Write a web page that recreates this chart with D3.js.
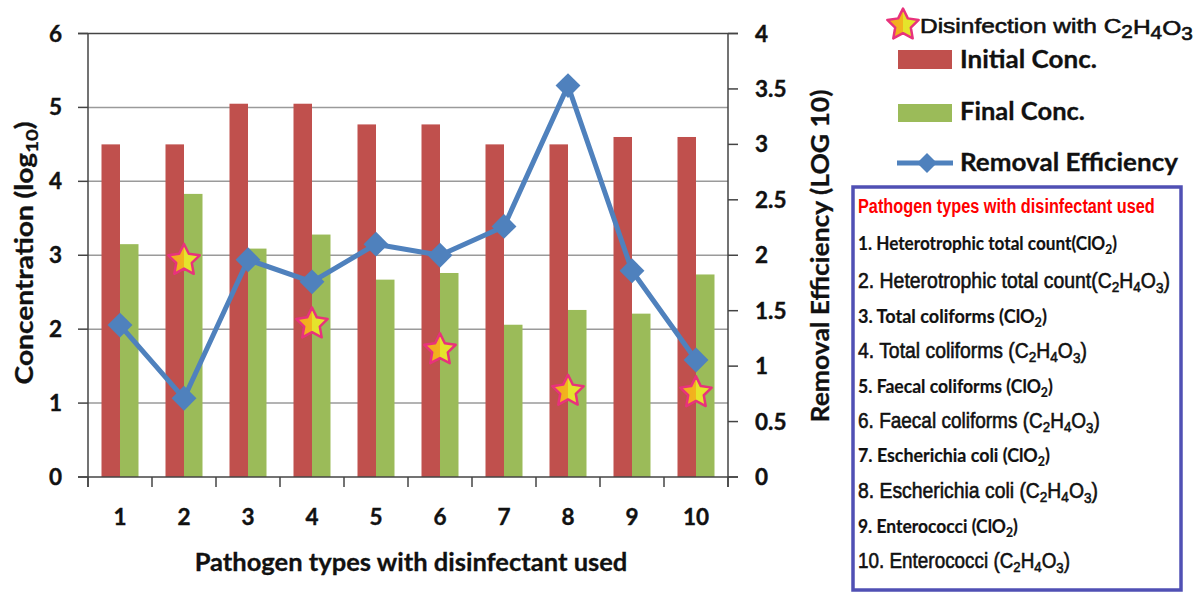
<!DOCTYPE html>
<html>
<head>
<meta charset="utf-8">
<script src="https://cdn.jsdelivr.net/npm/d3@7"></script>
<style>
  html, body { margin: 0; padding: 0; background: #fff; }
  svg { display: block; }
</style>
</head>
<body>
<svg id="chart" width="1194" height="592"></svg>
<script>
// ---- data -------------------------------------------------------------
const categories   = ['1', '2', '3', '4', '5', '6', '7', '8', '9', '10'];
const initialConc  = [4.5, 4.5, 5.05, 5.05, 4.77, 4.77, 4.5, 4.5, 4.6, 4.6];
const finalConc    = [3.15, 3.83, 3.09, 3.28, 2.67, 2.76, 2.06, 2.26, 2.21, 2.74];
const removalEff   = [1.37, 0.71, 1.96, 1.76, 2.10, 2.00, 2.26, 3.53, 1.86, 1.055];
// pathogen groups disinfected with peracetic acid (C2H4O3), marked with a star
const starCats     = ['2', '4', '6', '8', '10'];
const starConc     = [2.93, 2.07, 1.72, 1.16, 1.14];
const leftTicks    = [0, 1, 2, 3, 4, 5, 6];
const rightTicks   = [0, 0.5, 1, 1.5, 2, 2.5, 3, 3.5, 4];
const pathogenList = [
  '1. Heterotrophic total count(ClO_2)',
  '2. Heterotrophic total count(C_2H_4O_3)',
  '3.  Total coliforms (ClO_2)',
  '4. Total coliforms (C_2H_4O_3)',
  '5. Faecal coliforms (ClO_2)',
  '6. Faecal coliforms (C_2H_4O_3)',
  '7. Escherichia coli  (ClO_2)',
  '8. Escherichia coli  (C_2H_4O_3)',
  '9. Enterococci  (ClO_2)',
  '10. Enterococci (C_2H_4O_3)'
];

// ---- layout -----------------------------------------------------------
const plot = { left: 88, right: 728, top: 33.5, bottom: 477 };
const colors = { initial: '#c0504d', final: '#9bbb59', line: '#4f81bd',
                 grid: '#9a9a9a', axis: '#444', box: '#5050b4' };
const barW = 18.5;

const svg = d3.select('#chart');
const defs = svg.append('defs');
const grad = defs.append('linearGradient').attr('id', 'starFill')
  .attr('x1', '0').attr('x2', '1').attr('y1', '0').attr('y2', '0');
grad.append('stop').attr('offset', '0%').attr('stop-color', '#f2a81e');
grad.append('stop').attr('offset', '50%').attr('stop-color', '#f2b41e');
grad.append('stop').attr('offset', '50%').attr('stop-color', '#e4e42c');
grad.append('stop').attr('offset', '100%').attr('stop-color', '#e4e42c');

const x = d3.scaleBand().domain(categories).range([plot.left, plot.right]).padding(0);
const yL = d3.scaleLinear().domain([0, 6]).range([plot.bottom, plot.top]);
const yR = d3.scaleLinear().domain([0, 4]).range([plot.bottom, plot.top]);
const cx = c => x(c) + x.bandwidth() / 2;

// text with "_n" subscripts -> tspans
function richText(sel, str, subScale = 0.68) {
  const parts = str.split(/_(\d+)/);
  let shifted = false;
  parts.forEach((p, i) => {
    if (!p) return;
    const isSub = i % 2 === 1;
    const t = sel.append('tspan').text(p);
    if (isSub) {
      t.attr('font-size', (subScale * 100) + '%');
      if (!shifted) { t.attr('dy', '0.28em'); shifted = true; }
    } else if (shifted) {
      t.attr('dy', '-0.19em'); shifted = false;
    }
  });
  return sel;
}
// horizontally scale a text element so it spans the given width
function fitText(sel, tx, ty, w, rot = 0) {
  const len = sel.node().getComputedTextLength();
  const s = w / len;
  sel.attr('x', 0).attr('y', 0)
     .attr('transform', `translate(${tx},${ty}) rotate(${rot}) scale(${s},1)`);
  return sel;
}
// plump five-pointed star
function starShape(rOuter, rInner) {
  const pts = d3.range(10).map(k => [k * Math.PI / 5, k % 2 ? rInner : rOuter]);
  return d3.lineRadial().curve(d3.curveLinearClosed)(pts);
}
const starD = starShape(16.5, 8.2);

// ---- gridlines ----------------------------------------------------------
svg.append('g').selectAll('line').data(leftTicks.filter(d => d > 0 && d < 6)).join('line')
  .attr('x1', plot.left).attr('x2', plot.right)
  .attr('y1', d => yL(d)).attr('y2', d => yL(d))
  .attr('stroke', colors.grid).attr('stroke-width', 1.5);

// ---- bars ---------------------------------------------------------------
svg.append('g').selectAll('rect').data(categories).join('rect')
  .attr('x', d => cx(d) - barW).attr('width', barW)
  .attr('y', (d, i) => yL(initialConc[i]))
  .attr('height', (d, i) => yL(0) - yL(initialConc[i]))
  .attr('fill', colors.initial);
svg.append('g').selectAll('rect').data(categories).join('rect')
  .attr('x', d => cx(d)).attr('width', barW)
  .attr('y', (d, i) => yL(finalConc[i]))
  .attr('height', (d, i) => yL(0) - yL(finalConc[i]))
  .attr('fill', colors.final);

// ---- axes ---------------------------------------------------------------
const axG = svg.append('g').attr('stroke', colors.axis).attr('stroke-width', 1.5);
// frame: left, right, top, bottom
axG.append('line').attr('x1', plot.left).attr('x2', plot.left).attr('y1', plot.top).attr('y2', plot.bottom + 10);
axG.append('line').attr('x1', plot.right).attr('x2', plot.right).attr('y1', plot.top).attr('y2', plot.bottom + 10);
axG.append('line').attr('x1', plot.left - 10).attr('x2', plot.right + 10).attr('y1', plot.top).attr('y2', plot.top);
axG.append('line').attr('x1', plot.left - 10).attr('x2', plot.right + 10).attr('y1', plot.bottom).attr('y2', plot.bottom);
// left ticks
axG.append('g').selectAll('line').data(leftTicks).join('line')
  .attr('x1', plot.left - 10).attr('x2', plot.left)
  .attr('y1', d => yL(d)).attr('y2', d => yL(d));
// right ticks
axG.append('g').selectAll('line').data(rightTicks).join('line')
  .attr('x1', plot.right).attr('x2', plot.right + 10)
  .attr('y1', d => yR(d)).attr('y2', d => yR(d));
// category boundary ticks
axG.append('g').selectAll('line').data(categories.concat(['end'])).join('line')
  .attr('x1', d => d === 'end' ? plot.right : x(d))
  .attr('x2', d => d === 'end' ? plot.right : x(d))
  .attr('y1', plot.bottom).attr('y2', plot.bottom + 10);

const labelFont = 'Lato, "Open Sans", sans-serif';
svg.append('g').selectAll('text').data(leftTicks).join('text')
  .attr('x', 62).attr('y', d => yL(d) + 8)
  .attr('text-anchor', 'end')
  .attr('font-family', labelFont).attr('font-weight', 700).attr('font-size', 22.5)
  .attr('fill', '#111').attr('stroke', '#111').attr('stroke-width', 0.4).text(d => d);
svg.append('g').selectAll('text').data(rightTicks).join('text')
  .attr('x', 755).attr('y', d => yR(d) + 8)
  .attr('font-family', labelFont).attr('font-weight', 700).attr('font-size', 22.5)
  .attr('fill', '#111').attr('stroke', '#111').attr('stroke-width', 0.4).text(d => d);
svg.append('g').selectAll('text').data(categories).join('text')
  .attr('x', d => cx(d)).attr('y', 524.5)
  .attr('text-anchor', 'middle')
  .attr('font-family', labelFont).attr('font-weight', 700).attr('font-size', 22.5)
  .attr('fill', '#111').attr('stroke', '#111').attr('stroke-width', 0.4).text(d => d);

// axis titles
const xTitle = svg.append('text').attr('text-anchor', 'middle')
  .attr('font-family', labelFont).attr('font-weight', 700).attr('font-size', 25)
  .attr('fill', '#111').attr('stroke', '#111').attr('stroke-width', 0.3)
  .text('Pathogen types with disinfectant used');
fitText(xTitle, 411, 571, 433);

const yLTitle = svg.append('text').attr('text-anchor', 'middle')
  .attr('font-family', labelFont).attr('font-weight', 700).attr('font-size', 24)
  .attr('fill', '#111').attr('stroke', '#111').attr('stroke-width', 0.3);
richText(yLTitle, 'Concentration (log_10)', 0.72);
fitText(yLTitle, 33, 253, 263, -90);

const yRTitle = svg.append('text').attr('text-anchor', 'middle')
  .attr('font-family', labelFont).attr('font-weight', 700).attr('font-size', 25)
  .attr('fill', '#111').attr('stroke', '#111').attr('stroke-width', 0.3)
  .text('Removal Efficiency (LOG 10)');
fitText(yRTitle, 829, 256, 333, -90);

// ---- removal efficiency line ------------------------------------------
const line = d3.line().x((d, i) => cx(categories[i])).y(d => yR(d));
svg.append('path').datum(removalEff).attr('d', line)
  .attr('fill', 'none').attr('stroke', colors.line).attr('stroke-width', 5)
  .attr('stroke-linejoin', 'round');
svg.append('g').selectAll('path').data(removalEff).join('path')
  .attr('transform', (d, i) => `translate(${cx(categories[i])},${yR(d)}) rotate(45)`)
  .attr('d', d3.symbol().type(d3.symbolSquare).size(310))
  .attr('fill', colors.line);

// ---- stars ---------------------------------------------------------------
svg.append('g').selectAll('path').data(starCats).join('path')
  .attr('transform', (d, i) => `translate(${cx(d)},${yL(starConc[i])})`)
  .attr('d', starD)
  .attr('fill', 'url(#starFill)').attr('stroke', '#e8327c').attr('stroke-width', 2.5)
  .attr('stroke-linejoin', 'round');

// ---- legend ---------------------------------------------------------------
const lg = svg.append('g');
lg.append('path').attr('transform', 'translate(903,25)').attr('d', starD)
  .attr('fill', 'url(#starFill)').attr('stroke', '#e8327c').attr('stroke-width', 2.5)
  .attr('stroke-linejoin', 'round');
const lgStar = lg.append('text').attr('font-family', '"Liberation Sans", Arial, sans-serif')
  .attr('font-size', 21).attr('fill', '#111').attr('font-weight', 400)
  .attr('stroke', '#111').attr('stroke-width', 0.6);
richText(lgStar, 'Disinfection with C_2H_4O_3', 0.85);
fitText(lgStar, 920, 33, 273);

lg.append('rect').attr('x', 898).attr('y', 50).attr('width', 54).attr('height', 19).attr('fill', colors.initial);
lg.append('rect').attr('x', 898).attr('y', 104).attr('width', 54).attr('height', 18).attr('fill', colors.final);
lg.append('line').attr('x1', 897).attr('x2', 953).attr('y1', 163).attr('y2', 163)
  .attr('stroke', colors.line).attr('stroke-width', 5);
lg.append('path').attr('transform', 'translate(927,163) rotate(45)')
  .attr('d', d3.symbol().type(d3.symbolSquare).size(200)).attr('fill', colors.line);

const lgItems = [['Initial Conc.', 68, 137], ['Final Conc.', 120, 125], ['Removal Efficiency', 171, 218]];
lgItems.forEach(([t, yy, w]) => {
  const el = lg.append('text').attr('font-family', labelFont).attr('font-weight', 700)
    .attr('font-size', 25.5).attr('fill', '#111').attr('stroke', '#111').attr('stroke-width', 0.3)
    .text(t);
  fitText(el, 960, yy, w);
});

// ---- pathogen key box ------------------------------------------------------
const box = svg.append('g');
box.append('rect').attr('x', 853).attr('y', 187).attr('width', 328).attr('height', 403)
  .attr('fill', '#fff').attr('stroke', colors.box).attr('stroke-width', 3.5);
const boxTitle = box.append('text').attr('font-family', '"Liberation Sans", Arial, sans-serif')
  .attr('font-weight', 700).attr('font-size', 21).attr('fill', '#ff0000')
  .text('Pathogen types with disinfectant used');
fitText(boxTitle, 858, 213, 297);

const itemBase = [250, 288, 323, 358, 393, 428, 462, 498, 533, 568];
const itemEnd  = [1117, 1170, 1047, 1087, 1053, 1100, 1050, 1098, 1018, 1070];
pathogenList.forEach((s, i) => {
  const even = i % 2 === 1;
  const el = box.append('text')
    .attr('font-family', even ? '"Liberation Sans", Arial, sans-serif' : labelFont)
    .attr('font-weight', even ? 400 : 700)
    .attr('font-size', even ? 22 : 18.5).attr('fill', '#111')
    .attr('stroke', '#111').attr('stroke-width', even ? 0.6 : 0.2);
  richText(el, s, 0.7);
  fitText(el, 858, itemBase[i], itemEnd[i] - 858);
});
</script>
</body>
</html>
